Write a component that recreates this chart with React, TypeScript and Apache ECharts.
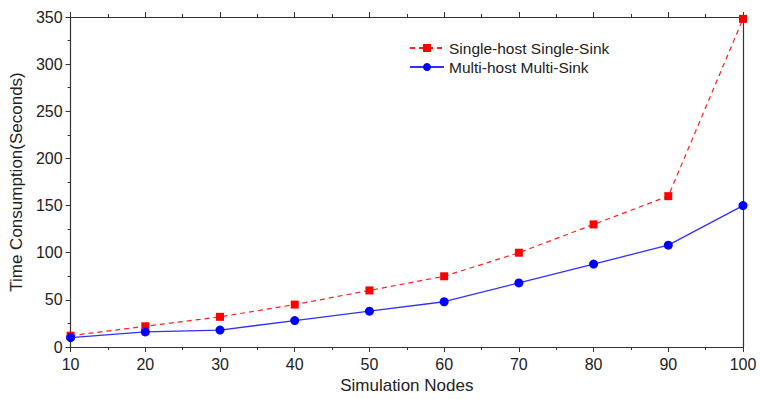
import React, { useEffect, useRef } from "react";
import * as echarts from "echarts";

const nodes = [10, 20, 30, 40, 50, 60, 70, 80, 90, 100];
const singleHost = [12, 22, 32, 45, 60, 75, 100, 130, 160, 348];
const multiHost = [10, 16, 18, 28, 38, 48, 68, 88, 108, 150];
const seriesNames = ["Single-host Single-Sink", "Multi-host Multi-Sink"];

const FONT = "Liberation Sans, Arial, sans-serif";
const AXIS_COLOR = "#333";

export default function App() {
  const ref = useRef<HTMLDivElement>(null);
  useEffect(() => {
    if (!ref.current) return;
    const chart = echarts.init(ref.current, null, { renderer: "svg" });
    const xBase = {
      type: "value" as const,
      min: 10,
      max: 100,
      interval: 10,
      axisLine: { show: true, onZero: false, lineStyle: { color: AXIS_COLOR, width: 1.2 } },
      axisTick: { show: true, length: 5, lineStyle: { color: AXIS_COLOR } },
      minorTick: { show: true, splitNumber: 2, length: 3, lineStyle: { color: AXIS_COLOR } },
      splitLine: { show: false },
    };
    chart.setOption({
      animation: false,
      backgroundColor: "#fff",
      grid: { left: 70, right: 17, top: 17, bottom: 52, containLabel: false },
      legend: {
        left: 404,
        top: 35,
        orient: "vertical",
        itemWidth: 34,
        itemHeight: 10,
        itemGap: 3,
        textStyle: { fontFamily: FONT, fontSize: 15.5, color: "#222" },
        data: seriesNames,
      },
      xAxis: [
        {
          ...xBase,
          position: "bottom",
          name: "Simulation Nodes",
          nameLocation: "middle",
          nameGap: 29,
          nameTextStyle: { fontFamily: FONT, fontSize: 17, color: "#222" },
          axisLabel: { fontFamily: FONT, fontSize: 16, color: "#222", margin: 9 },
        },
        {
          ...xBase,
          position: "top",
          axisLabel: { show: false },
        },
      ],
      yAxis: [
        {
          type: "value",
          min: 0,
          max: 350,
          interval: 50,
          position: "left",
          name: "Time Consumption(Seconds)",
          nameLocation: "middle",
          nameGap: 39,
          nameTextStyle: { fontFamily: FONT, fontSize: 17, color: "#222" },
          axisLine: { show: true, lineStyle: { color: AXIS_COLOR, width: 1.2 } },
          axisTick: { show: true, length: 5, lineStyle: { color: AXIS_COLOR } },
          minorTick: { show: true, splitNumber: 2, length: 3, lineStyle: { color: AXIS_COLOR } },
          axisLabel: { fontFamily: FONT, fontSize: 16, color: "#222", margin: 8 },
          splitLine: { show: false },
        },
        {
          type: "value",
          min: 0,
          max: 350,
          interval: 50,
          position: "right",
          axisLine: { show: true, lineStyle: { color: AXIS_COLOR, width: 1.2 } },
          axisTick: { show: false },
          axisLabel: { show: false },
          splitLine: { show: false },
        },
      ],
      series: [
        {
          name: seriesNames[0],
          type: "line",
          data: nodes.map((x, i) => [x, singleHost[i]]),
          symbol: "rect",
          symbolSize: 8,
          itemStyle: { color: "#ff0000" },
          lineStyle: { color: "#ff2020", width: 1.2, type: [5, 4] },
        },
        {
          name: seriesNames[1],
          type: "line",
          data: nodes.map((x, i) => [x, multiHost[i]]),
          symbol: "circle",
          symbolSize: 9,
          itemStyle: { color: "#0000ff" },
          lineStyle: { color: "#3030ff", width: 1.3 },
        },
      ],
    });
    return () => chart.dispose();
  }, []);
  return <div ref={ref} style={{ width: 760, height: 399, position: "absolute", left: 0, top: 0 }} />;
}
